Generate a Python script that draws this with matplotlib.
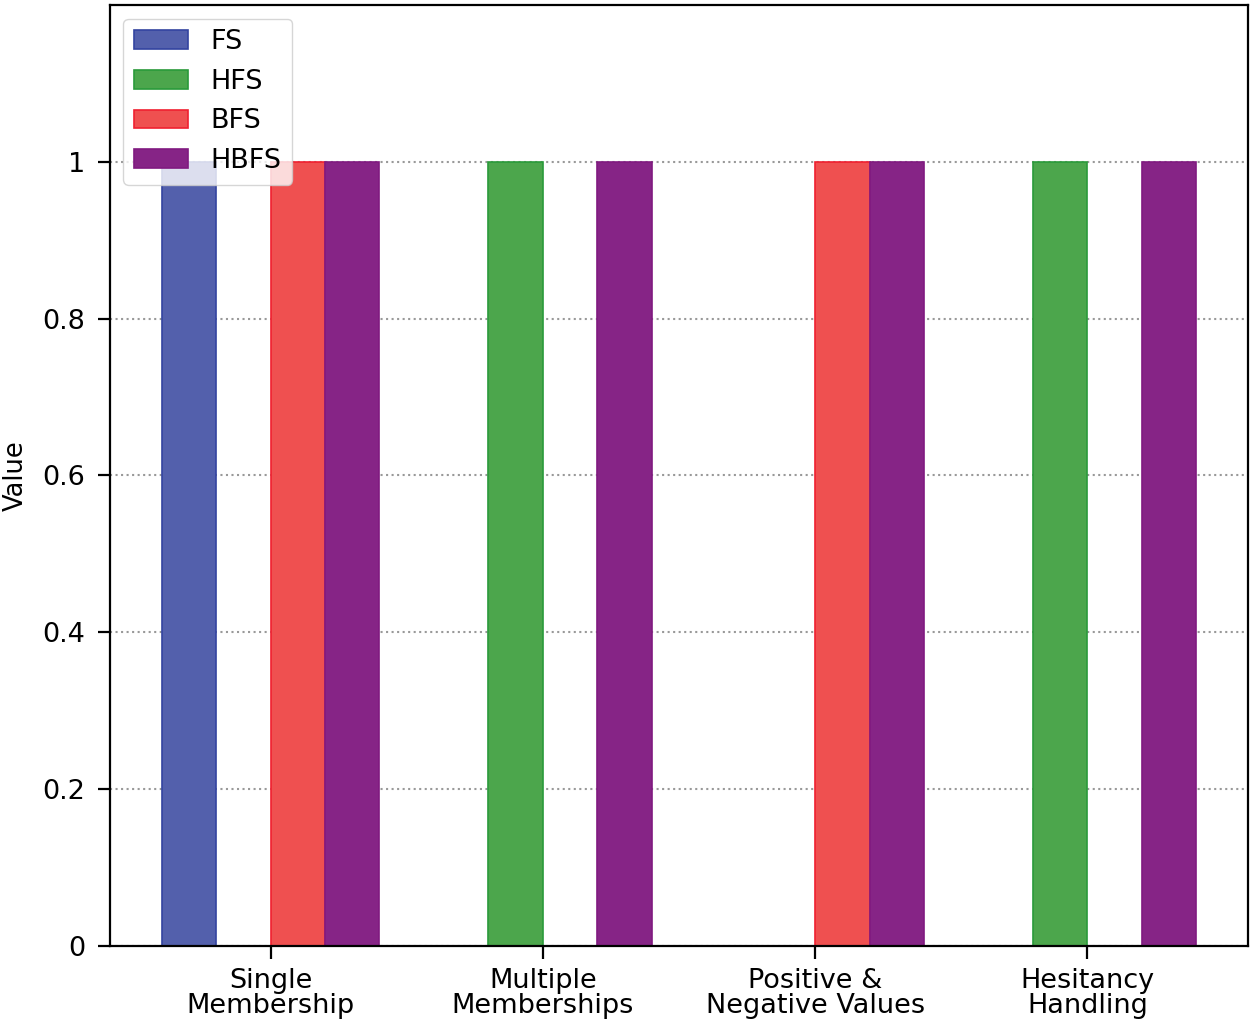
import matplotlib
matplotlib.use("Agg")
import matplotlib.pyplot as plt
import numpy as np

categories = ["Single\nMembership", "Multiple\nMemberships", "Positive &\nNegative Values", "Hesitancy\nHandling"]
series_names = ["FS", "HFS", "BFS", "HBFS"]
FS = [1, 0, 0, 0]
HFS = [0, 1, 0, 1]
BFS = [1, 0, 1, 0]
HBFS = [1, 1, 1, 1]
values = [FS, HFS, BFS, HBFS]
face_colors = ["#5360ac", "#4ca64c", "#ef5050", "#862486"]
edge_colors = ["#3344a0", "#2a9a3a", "#f02030", "#801a80"]
yticks = [0, 0.2, 0.4, 0.6, 0.8, 1]
ytick_labels = ["0", "0.2", "0.4", "0.6", "0.8", "1"]

plt.rcParams["font.family"] = ["DejaVu Sans"]
plt.rcParams["font.size"] = 19.5

fig = plt.figure(figsize=(12.55, 10.25), dpi=100)
ax = fig.add_axes([0.0876, 0.0771, 0.9944 - 0.0876, 0.9951 - 0.0771])

x = np.arange(len(categories))
w = 0.2
for i, (name, vals) in enumerate(zip(series_names, values)):
    ax.bar(x + (i - 1.5) * w, vals, w, label=name, color=face_colors[i],
           edgecolor=edge_colors[i], linewidth=1.2, zorder=2)

ax.set_ylim(0, 1.2)
ax.set_yticks(yticks)
ax.set_yticklabels(ytick_labels)
ax.set_xticks(x)
ax.set_xticklabels(categories, linespacing=0.95)
ax.set_ylabel("Value", fontsize=18.5)
ax.yaxis.set_label_coords(-0.071, 0.5)
ax.yaxis.grid(True, linestyle=":", color="#999999", linewidth=1.5, zorder=0)
ax.set_axisbelow(True)
for s in ax.spines.values():
    s.set_linewidth(1.6)
ax.tick_params(width=1.6, length=9)
ax.tick_params(axis="x", pad=7)
ax.tick_params(axis="y", pad=9)
ax.legend(loc="upper left", framealpha=0.8)

fig.savefig("out.png", dpi=100)
